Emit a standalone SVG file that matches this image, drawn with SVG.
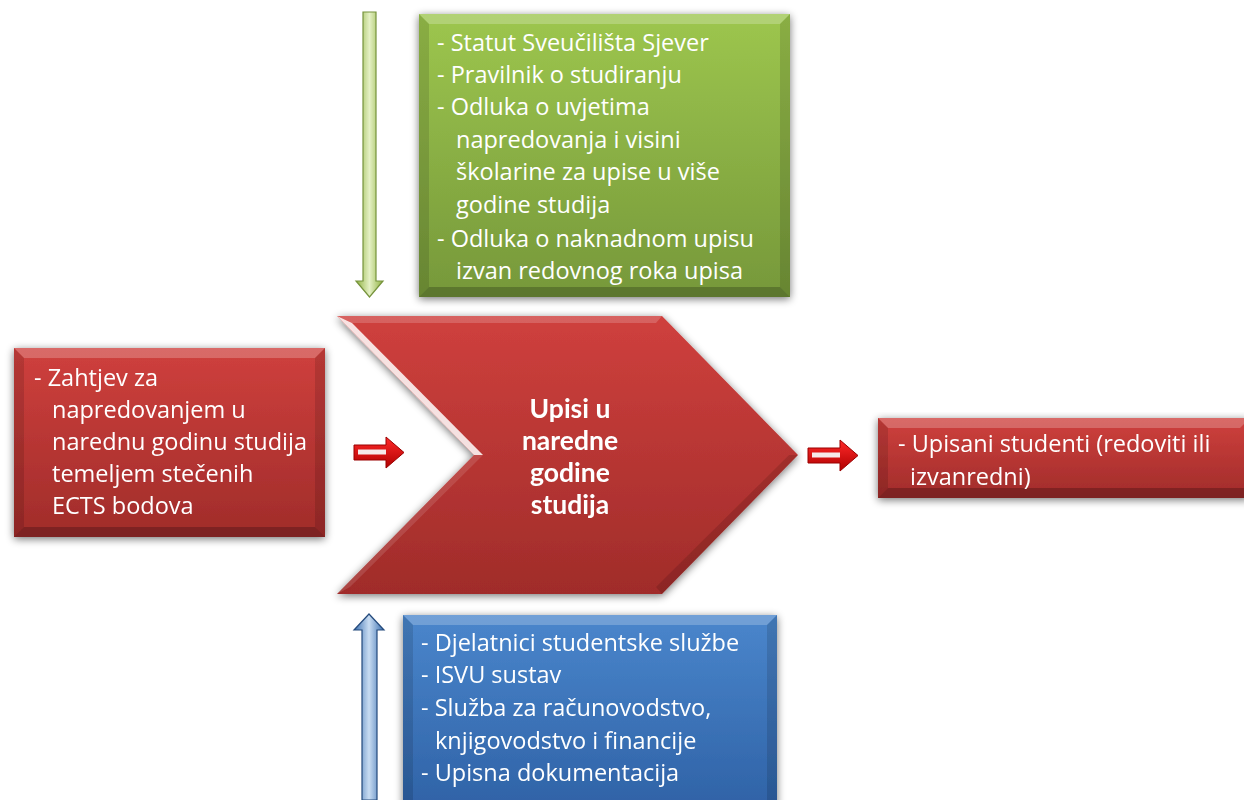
<svg xmlns="http://www.w3.org/2000/svg" width="1244" height="800" viewBox="0 0 1244 800">
<defs>
  <linearGradient id="gGreen" x1="0" y1="0" x2="0" y2="1">
    <stop offset="0" stop-color="#9dc64e"/>
    <stop offset="1" stop-color="#76983a"/>
  </linearGradient>
  <linearGradient id="gRed" x1="0" y1="0" x2="0" y2="1">
    <stop offset="0" stop-color="#cf403d"/>
    <stop offset="1" stop-color="#a02c2a"/>
  </linearGradient>
  <linearGradient id="gBlue" x1="0" y1="0" x2="0" y2="1">
    <stop offset="0" stop-color="#4a86cc"/>
    <stop offset="1" stop-color="#2f62a6"/>
  </linearGradient>
  <linearGradient id="gArrowR" x1="0" y1="0" x2="0" y2="1">
    <stop offset="0" stop-color="#ff2a2a"/>
    <stop offset="1" stop-color="#b00000"/>
  </linearGradient>
  <linearGradient id="gArrowG" x1="0" y1="0" x2="1" y2="0">
    <stop offset="0" stop-color="#8fb240"/>
    <stop offset="0.5" stop-color="#e4f0c4"/>
    <stop offset="1" stop-color="#8fb240"/>
  </linearGradient>
  <linearGradient id="gArrowB" x1="0" y1="0" x2="1" y2="0">
    <stop offset="0" stop-color="#3a6fb0"/>
    <stop offset="0.5" stop-color="#c8dcf2"/>
    <stop offset="1" stop-color="#3a6fb0"/>
  </linearGradient>
  <filter id="shadow" x="-10%" y="-10%" width="120%" height="125%">
    <feGaussianBlur in="SourceAlpha" stdDeviation="4"/>
    <feOffset dx="0" dy="2" result="b"/>
    <feComponentTransfer><feFuncA type="linear" slope="0.55"/></feComponentTransfer>
    <feMerge><feMergeNode/><feMergeNode in="SourceGraphic"/></feMerge>
  </filter>
</defs>
<style>
  .t { font-family: "Open Sans", Lato, "Liberation Sans", sans-serif; font-size: 23.5px; fill: #ffffff; }
  .tb { font-family: Lato, "Open Sans", "Liberation Sans", sans-serif; font-size: 26.5px; font-weight: bold; fill: #ffffff; text-anchor: middle; }
  .hi { fill: #ffffff; opacity: 0.22; }
  .sd { fill: #000000; opacity: 0.12; }
  .dk { fill: #000000; opacity: 0.22; }
</style>

<g id="connectors">
  <polygon points="363,12 376,12 376,281 383,281 369.5,297 356,281 363,281" fill="url(#gArrowG)" stroke="#76933c" stroke-width="1.2"/>
  <polygon points="369,614 384,630 377,630 377,800 362,800 362,630 354,630" fill="url(#gArrowB)" stroke="#244a7c" stroke-width="1.2"/>
  <g id="arrow-in">
    <polygon points="354,445 386,445 386,437 404,452.5 386,468 386,460 354,460" fill="url(#gArrowR)" stroke="#9a0000" stroke-width="1"/>
    <rect x="358" y="449.5" width="28" height="5" fill="#f6eaea"/>
  </g>
  <g id="arrow-out">
    <polygon points="808,448 840,448 840,440 858,455.5 840,471 840,463 808,463" fill="url(#gArrowR)" stroke="#9a0000" stroke-width="1"/>
    <rect x="812" y="452.5" width="28" height="5" fill="#f6eaea"/>
  </g>
</g>

<g id="node-green" filter="url(#shadow)">
  <rect x="419" y="14" width="371" height="283" fill="url(#gGreen)"/>
  <polygon class="hi" points="419,14 790,14 780,24 429,24"/>
  <polygon class="sd" points="419,14 429,24 429,287 419,297"/>
  <polygon class="sd" points="790,14 790,297 780,287 780,24"/>
  <polygon class="dk" points="419,297 429,287 780,287 790,297"/>
</g>
<g id="text-green">
  <text class="t" x="437" y="51">- Statut Sveučilišta Sjever</text>
  <text class="t" x="437" y="83">- Pravilnik o studiranju</text>
  <text class="t" x="437" y="115">- Odluka o uvjetima</text>
  <text class="t" x="456" y="148">napredovanja i visini</text>
  <text class="t" x="456" y="180">školarine za upise u više</text>
  <text class="t" x="456" y="213">godine studija</text>
  <text class="t" x="437" y="247">- Odluka o naknadnom upisu</text>
  <text class="t" x="456" y="279">izvan redovnog roka upisa</text>
</g>

<g id="node-chevron" filter="url(#shadow)">
  <polygon points="337,316 662,316 798,455 662,594 337,594 474,455" fill="url(#gRed)"/>
  <polygon points="337,316 662,316 656,323 352,323" fill="#ffffff" opacity="0.18"/>
  <polygon points="337,316 352,323 483,455 474,455" fill="#ffffff" opacity="0.85"/>
  <polygon points="662,594 656,587 789,455 798,455" fill="#000000" opacity="0.12"/>
  <polygon points="474,455 483,455 350,587 337,594" fill="#ffffff" opacity="0.12"/>
  <text class="tb" x="570" y="418">Upisi u</text>
  <text class="tb" x="570" y="450">naredne</text>
  <text class="tb" x="570" y="482">godine</text>
  <text class="tb" x="570" y="514">studija</text>
</g>

<g id="node-left" filter="url(#shadow)">
  <rect x="14" y="348" width="311" height="189" fill="url(#gRed)"/>
  <polygon class="hi" points="14,348 325,348 315,358 24,358"/>
  <polygon class="sd" points="14,348 24,358 24,527 14,537"/>
  <polygon class="sd" points="325,348 325,537 315,527 315,358"/>
  <polygon class="dk" points="14,537 24,527 315,527 325,537"/>
  <text class="t" x="34" y="386">- Zahtjev za</text>
  <text class="t" x="52" y="418">napredovanjem u</text>
  <text class="t" x="52" y="450">narednu godinu studija</text>
  <text class="t" x="52" y="482">temeljem stečenih</text>
  <text class="t" x="52" y="514">ECTS bodova</text>
</g>

<g id="node-right" filter="url(#shadow)">
  <rect x="878" y="418" width="372" height="80" fill="url(#gRed)"/>
  <polygon class="hi" points="878,418 1250,418 1240,428 888,428"/>
  <polygon class="sd" points="878,418 888,428 888,488 878,498"/>
  <polygon class="dk" points="878,498 888,488 1250,488 1250,498"/>
  <text class="t" x="898" y="452">- Upisani studenti (redoviti ili</text>
  <text class="t" x="910" y="485">izvanredni)</text>
</g>

<g id="node-blue" filter="url(#shadow)">
  <rect x="403" y="615" width="374" height="195" fill="url(#gBlue)"/>
  <polygon class="hi" points="403,615 777,615 767,625 413,625"/>
  <polygon class="sd" points="403,615 413,625 413,800 403,800"/>
  <polygon class="sd" points="777,615 777,800 767,800 767,625"/>
  <text class="t" x="421" y="651">- Djelatnici studentske službe</text>
  <text class="t" x="421" y="683">- ISVU sustav</text>
  <text class="t" x="421" y="716">- Služba za računovodstvo,</text>
  <text class="t" x="435" y="749">knjigovodstvo i financije</text>
  <text class="t" x="421" y="781">- Upisna dokumentacija</text>
</g>
</svg>
